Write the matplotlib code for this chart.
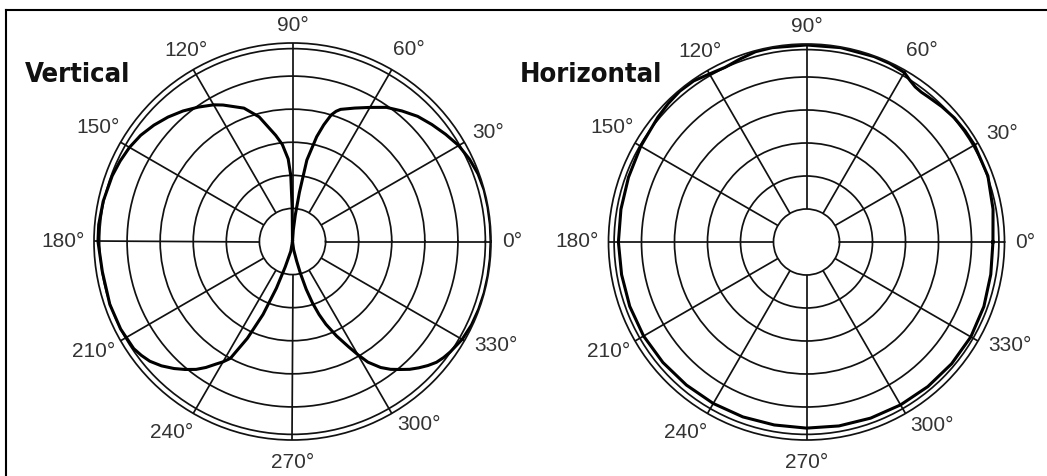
import numpy as np
import matplotlib.pyplot as plt
from matplotlib.lines import Line2D
from matplotlib import font_manager as fm
from matplotlib.font_manager import FontProperties

# ---- data (angle in degrees, level in ring units, outer ring = 6) ----
vert_right_deg = [-90, -82, -78, -76, -74, -72, -70, -68, -65, -62, -60, -58, -55, -52.5, -50,
                  -47.5, -45, -42.5, -40, -37.5, -35, -30, -25, -20, -15, -10, -5, 0, 5, 10,
                  15, 20, 25, 30, 35, 40, 45, 50, 55, 60, 65, 70, 71.5, 73, 75, 77, 80, 82, 84,
                  86, 90]
vert_right_r = [0.0, 0.25, 0.6, 1.0, 1.5, 1.95, 2.35, 2.7, 3.15, 3.6, 3.95, 4.3, 4.65, 4.87,
                5.05, 5.24, 5.4, 5.55, 5.68, 5.76, 5.82, 5.92, 5.97, 5.99, 6.0, 6.0, 6.0, 6.0,
                6.0, 6.0, 6.0, 5.97, 5.9, 5.8, 5.65, 5.5, 5.35, 5.15, 4.95, 4.68, 4.45, 4.25,
                4.15, 4.0, 3.65, 3.25, 2.5, 1.5, 0.8, 0.35, 0.0]

vert_left_deg = [90, 90.5, 91.5, 93, 96, 99, 105, 110, 117, 120, 125, 130, 135, 140, 145, 150,
                 155, 160, 168, 175, 180, 189, 199, 207, 214, 217, 220, 223.5, 227, 230, 233,
                 235.5, 238, 240, 242, 245, 248, 251, 254, 260, 270]
vert_left_r = [0.0, 1.0, 2.0, 2.5, 2.95, 3.25, 3.9, 4.29, 4.63, 4.77, 4.96, 5.15, 5.32, 5.47,
               5.6, 5.69, 5.75, 5.8, 5.85, 5.88, 5.88, 5.82, 5.84, 5.83, 5.79, 5.72, 5.63,
               5.46, 5.25, 5.05, 4.84, 4.62, 4.37, 4.2, 4.0, 3.23, 2.38, 1.49, 0.8, 0.3, 0.0]

horiz_deg = [0, 10, 20, 30, 35, 40, 45, 50, 52.5, 55, 57.5, 60, 65, 70, 80, 90, 100, 105, 110,
             115, 120, 125, 130, 135, 140, 150, 160, 170, 180, 190, 200, 210, 220, 230, 240,
             250, 260, 270, 280, 290, 300, 310, 320, 330, 340, 350, 360]
horiz_r = [5.65, 5.74, 5.85, 5.88, 5.87, 5.85, 5.8, 5.74, 5.72, 5.74, 5.82, 5.93, 5.97, 5.98,
           5.98, 5.97, 5.98, 5.97, 5.9, 5.84, 5.88, 5.96, 5.97, 5.93, 5.88, 5.8, 5.74, 5.71,
           5.7, 5.69, 5.7, 5.7, 5.68, 5.66, 5.65, 5.64, 5.63, 5.64, 5.66, 5.68, 5.7, 5.72,
           5.74, 5.75, 5.72, 5.67, 5.65]

label_angles = [0, 30, 60, 90, 120, 150, 180, 210, 240, 270, 300, 330]
titles = ['Vertical', 'Horizontal']

# where each angle label sits (polar angle, radius in ring units)
label_pos_deg = [0, 29, 58.8, 90, 119.2, 149.6, 180, 209, 237.6, 270, 304.5, 333]
label_pos_r = [6.64, 6.77, 6.77, 6.53, 6.62, 6.83, 6.95, 6.86, 6.82, 6.67, 6.73, 6.91]

rings = [1, 2, 3, 4, 5, 5.83]
R_MAX = 6

W, H = 1047, 476
fig = plt.figure(figsize=(W / 100, H / 100), dpi=100)
fig.patch.set_facecolor('white')


def narrow_bold_font():
    """Pick a condensed bold face if one is installed, else a plain bold one."""
    prefs = ['liberation sans narrow', 'dejavu sans', 'roboto condensed',
             'open sans condensed', 'noto sans', 'open sans']
    found = []
    for f in fm.fontManager.ttflist:
        w = f.weight if isinstance(f.weight, int) else fm.weight_dict.get(f.weight, 400)
        s = f.stretch if isinstance(f.stretch, int) else fm.stretch_dict.get(f.stretch, 500)
        name = f.name.lower()
        path = f.fname.lower()
        narrow = s < 500 or 'condensed' in name or 'narrow' in name or 'condensed' in path \
            or 'narrow' in path
        if narrow and w >= 600 and 'italic' not in path and 'oblique' not in path:
            rank = next((i for i, p in enumerate(prefs) if name.startswith(p)), len(prefs))
            found.append((rank, abs(w - 700), f.fname))
    if found:
        found.sort()
        return FontProperties(fname=found[0][2])
    return FontProperties(family=['Roboto', 'DejaVu Sans'], weight='bold')


def polar_panel(cx, cy, rad):
    ax = fig.add_axes([(cx - rad) / W, (H - cy - rad) / H, 2 * rad / W, 2 * rad / H],
                      projection='polar')
    ax.set_ylim(0, R_MAX)
    ax.set_xticks([])
    ax.set_rgrids(rings, labels=[''] * len(rings))
    ax.yaxis.grid(True, color='#111111', lw=1.25)
    ax.xaxis.grid(False)
    ax.spines['polar'].set_color('#111111')
    ax.spines['polar'].set_linewidth(1.25)
    spokes = np.radians(np.arange(0, 360, 30))
    ax.vlines(spokes, 1, R_MAX, color='#111111', lw=1.25)
    for a, pa, pr in zip(label_angles, label_pos_deg, label_pos_r):
        ax.text(np.radians(pa), pr, f'{a}°', ha='center', va='center', fontsize=15,
                family=['Liberation Sans', 'DejaVu Sans'], color='#333333', clip_on=False)
    return ax


ax1 = polar_panel(292.5, 241.5, 198.5)
ax1.plot(np.radians(vert_right_deg), vert_right_r, color='black', lw=2.2)
ax1.plot(np.radians(vert_left_deg), vert_left_r, color='black', lw=2.2)

ax2 = polar_panel(806.5, 242, 198)
ax2.plot(np.radians(horiz_deg), horiz_r, color='black', lw=2.2)

title_font = narrow_bold_font()
title_texts = []
for x, t in zip([25, 520], titles):
    fp = title_font.copy()
    fp.set_size(25)
    title_texts.append(fig.text(x / W, 1 - 82 / H, t, ha='left', va='baseline',
                                fontproperties=fp, color='#111111'))

# fit the title width to the source (about 106 px for "Vertical")
fig.canvas.draw()
renderer = fig.canvas.get_renderer()
w_px = title_texts[0].get_window_extent(renderer).width
scale = 106.0 / w_px
for tt in title_texts:
    tt.set_fontsize(25 * scale)

# frame around the figure (open at right/bottom like the source image)
fig.add_artist(Line2D([6 / W, 6 / W], [0, 1 - 10 / H], transform=fig.transFigure,
                      color='black', lw=1.5))
fig.add_artist(Line2D([6 / W, 1], [1 - 10 / H, 1 - 10 / H], transform=fig.transFigure,
                      color='black', lw=1.5))

fig.savefig('out.png', dpi=100)
